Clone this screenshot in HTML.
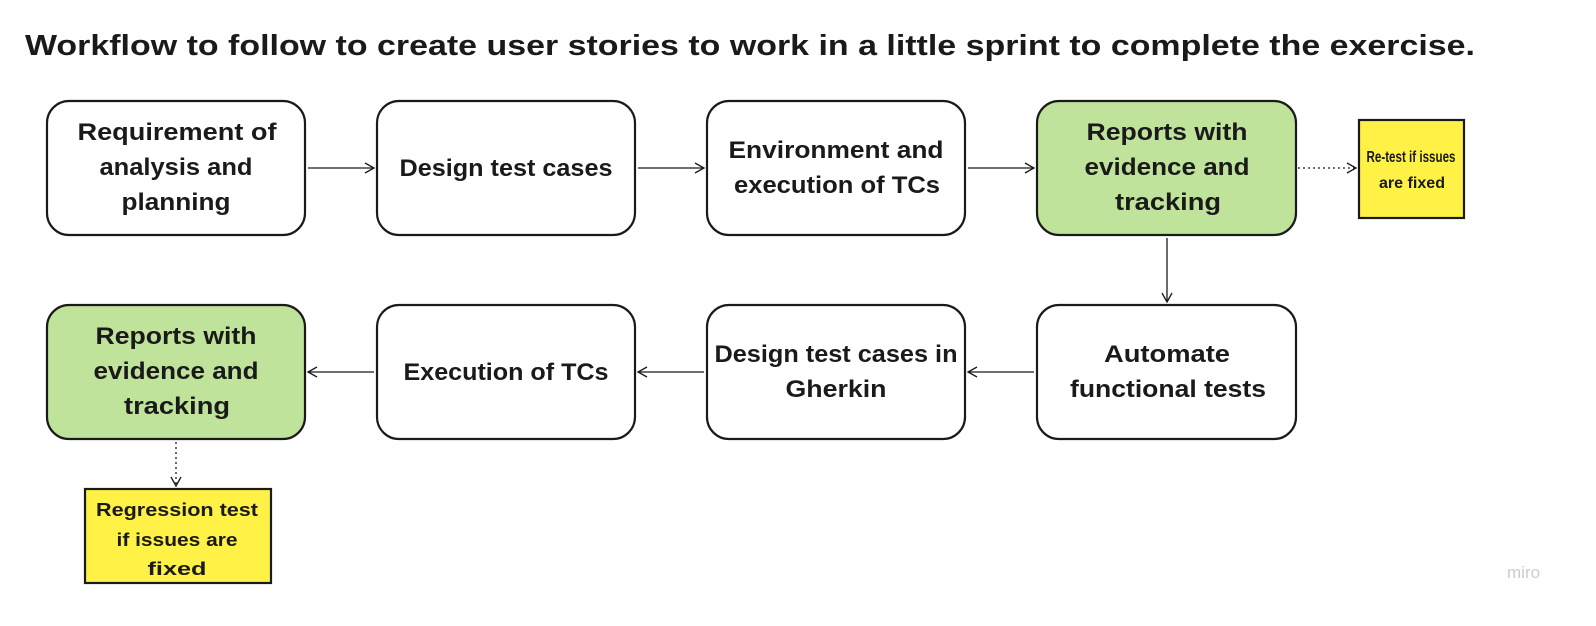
<!DOCTYPE html>
<html><head><style>
html,body{margin:0;padding:0;background:#fff;}
svg{display:block;}
text{font-family:"Liberation Sans","DejaVu Sans",sans-serif;font-weight:bold;fill:#1a1a1a;}
</style></head><body>
<svg width="1596" height="626" viewBox="0 0 1596 626" xmlns="http://www.w3.org/2000/svg">
<defs>
<marker id="a" markerWidth="12" markerHeight="12" refX="10" refY="6" orient="auto" markerUnits="userSpaceOnUse">
<path d="M1,1 L10,6 L1,11" fill="none" stroke="#1a1a1a" stroke-width="1.3"/>
</marker>
</defs>
<text x="25" y="55" font-size="29" textLength="1450" lengthAdjust="spacingAndGlyphs">Workflow to follow to create user stories to work in a little sprint to complete the exercise.</text>
<g stroke="#1a1a1a" stroke-width="2.2">
<rect x="47" y="101" width="258" height="134" rx="22" fill="#fff"/>
<rect x="377" y="101" width="258" height="134" rx="22" fill="#fff"/>
<rect x="707" y="101" width="258" height="134" rx="22" fill="#fff"/>
<rect x="1037" y="101" width="259" height="134" rx="22" fill="#bfe39b"/>
<rect x="47" y="305" width="258" height="134" rx="22" fill="#bfe39b"/>
<rect x="377" y="305" width="258" height="134" rx="22" fill="#fff"/>
<rect x="707" y="305" width="258" height="134" rx="22" fill="#fff"/>
<rect x="1037" y="305" width="259" height="134" rx="22" fill="#fff"/>
<rect x="1359" y="120" width="105" height="98" fill="#fff145"/>
<rect x="85" y="489" width="186" height="94" fill="#fff145"/>
</g>
<g stroke="#1a1a1a" stroke-width="1.3" fill="none">
<line x1="308" y1="168" x2="374" y2="168" marker-end="url(#a)"/>
<line x1="638" y1="168" x2="704" y2="168" marker-end="url(#a)"/>
<line x1="968" y1="168" x2="1034" y2="168" marker-end="url(#a)"/>
<line x1="1298" y1="168" x2="1356" y2="168" stroke-dasharray="2,3" marker-end="url(#a)"/>
<line x1="1167" y1="238" x2="1167" y2="302" marker-end="url(#a)"/>
<line x1="1034" y1="372" x2="968" y2="372" marker-end="url(#a)"/>
<line x1="704" y1="372" x2="638" y2="372" marker-end="url(#a)"/>
<line x1="374" y1="372" x2="308" y2="372" marker-end="url(#a)"/>
<line x1="176" y1="442" x2="176" y2="486" stroke-dasharray="2,3" marker-end="url(#a)"/>
</g>
<g font-size="24" text-anchor="middle">
<text x="177" y="140" textLength="199" lengthAdjust="spacingAndGlyphs">Requirement of</text>
<text x="176" y="175" textLength="153" lengthAdjust="spacingAndGlyphs">analysis and</text>
<text x="176" y="210" textLength="109" lengthAdjust="spacingAndGlyphs">planning</text>
<text x="506" y="176" textLength="213" lengthAdjust="spacingAndGlyphs">Design test cases</text>
<text x="836" y="158" textLength="215" lengthAdjust="spacingAndGlyphs">Environment and</text>
<text x="837" y="193" textLength="206" lengthAdjust="spacingAndGlyphs">execution of TCs</text>
<text x="1167" y="140" textLength="161" lengthAdjust="spacingAndGlyphs">Reports with</text>
<text x="1167" y="175" textLength="165" lengthAdjust="spacingAndGlyphs">evidence and</text>
<text x="1168" y="210" textLength="106" lengthAdjust="spacingAndGlyphs">tracking</text>
<text x="176" y="344" textLength="161" lengthAdjust="spacingAndGlyphs">Reports with</text>
<text x="176" y="379" textLength="165" lengthAdjust="spacingAndGlyphs">evidence and</text>
<text x="177" y="414" textLength="106" lengthAdjust="spacingAndGlyphs">tracking</text>
<text x="506" y="380" textLength="205" lengthAdjust="spacingAndGlyphs">Execution of TCs</text>
<text x="836" y="362" textLength="243" lengthAdjust="spacingAndGlyphs">Design test cases in</text>
<text x="836" y="397" textLength="101" lengthAdjust="spacingAndGlyphs">Gherkin</text>
<text x="1167" y="362" textLength="126" lengthAdjust="spacingAndGlyphs">Automate</text>
<text x="1168" y="397" textLength="196" lengthAdjust="spacingAndGlyphs">functional tests</text>
</g>
<g text-anchor="middle">
<text x="1411" y="162" font-size="15.5" textLength="89" lengthAdjust="spacingAndGlyphs">Re-test if issues</text>
<text x="1412" y="188" font-size="16" textLength="66" lengthAdjust="spacingAndGlyphs">are fixed</text>
<text x="177" y="516" font-size="18" textLength="162" lengthAdjust="spacingAndGlyphs">Regression test</text>
<text x="177" y="546" font-size="18" textLength="121" lengthAdjust="spacingAndGlyphs">if issues are</text>
<text x="177" y="575" font-size="18" textLength="59" lengthAdjust="spacingAndGlyphs">fixed</text>
</g>
<text x="1507" y="578" font-size="17" style="fill:#c8cdd6;font-weight:normal">miro</text>
</svg>
</body></html>
